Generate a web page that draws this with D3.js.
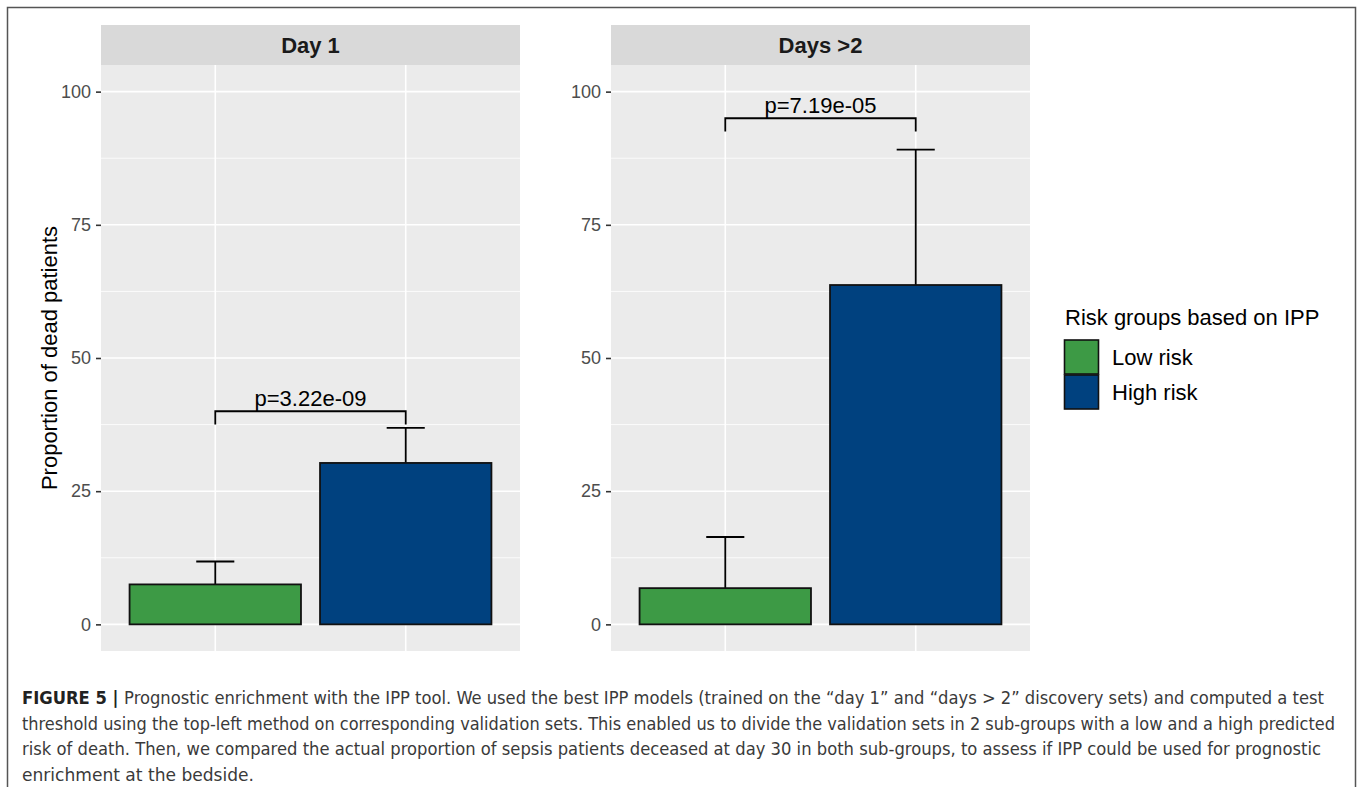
<!DOCTYPE html>
<html>
<head>
<meta charset="utf-8">
<script src="https://cdn.jsdelivr.net/npm/d3@7"></script>
<style>
  html, body { margin: 0; padding: 0; background: #ffffff; }
  svg { display: block; }
</style>
</head>
<body>
<script>
// Facets, groups and the measured proportions of deceased patients (%)
const facets = ["Day 1", "Days >2"];
const groups = ["Low risk", "High risk"];
const proportionDay1 = [7.5, 30.3];
const upperDay1 = [11.8, 36.9];
const proportionDays2 = [6.8, 63.7];
const upperDays2 = [16.4, 89.1];
const pLabels = ["p=3.22e-09", "p=7.19e-05"];
const bracketLevels = [40, 95];
const yTicks = [0, 25, 50, 75, 100];
const yMinorTicks = [12.5, 37.5, 62.5, 87.5];
const groupColors = ["#3d9a45", "#00417f"];
const legendTitle = "Risk groups based on IPP";
const yTitle = "Proportion of dead patients";
const captionLines = [
  ["FIGURE 5 | ", "Prognostic enrichment with the IPP tool. We used the best IPP models (trained on the \u201cday 1\u201d and \u201cdays > 2\u201d discovery sets) and computed a test"],
  ["", "threshold using the top-left method on corresponding validation sets. This enabled us to divide the validation sets in 2 sub-groups with a low and a high predicted"],
  ["", "risk of death. Then, we compared the actual proportion of sepsis patients deceased at day 30 in both sub-groups, to assess if IPP could be used for prognostic"],
  ["", "enrichment at the bedside."]
];
const captionWidths = [1302, 1313, 1299, 232];

const panelData = [
  { name: facets[0], values: proportionDay1, upper: upperDay1, p: pLabels[0], level: bracketLevels[0] },
  { name: facets[1], values: proportionDays2, upper: upperDays2, p: pLabels[1], level: bracketLevels[1] }
];

const W = 1363, H = 787;
const font = "'Liberation Sans', Arial, Helvetica, sans-serif";
const svg = d3.select("body").append("svg").attr("width", W).attr("height", H);

// outer frame of the figure box
svg.append("path")
  .attr("d", `M7.5,${H + 2}V7.5H1355.5V${H + 2}`)
  .attr("fill", "none").attr("stroke", "#555").attr("stroke-width", 1.5);

const panelTop = 65, panelBottom = 651, stripTop = 25;
const panelLefts = [101, 611];
const panelWidth = 419;

const y = d3.scaleLinear().domain([-5, 105]).range([panelBottom, panelTop]);

panelData.forEach((pd, i) => {
  const left = panelLefts[i], right = left + panelWidth;
  const x = d3.scalePoint().domain(groups).range([left, right]).padding(0.6);
  const barW = 0.9 * x.step();
  const capW = 0.2 * x.step();
  const g = svg.append("g");

  // strip
  g.append("rect").attr("x", left).attr("y", stripTop)
    .attr("width", panelWidth).attr("height", panelTop - stripTop).attr("fill", "#d9d9d9");
  g.append("text").attr("x", (left + right) / 2).attr("y", 53)
    .attr("text-anchor", "middle").attr("font-family", font).attr("font-weight", "bold")
    .attr("font-size", 22).attr("fill", "#1a1a1a").text(pd.name);

  // panel background and grid
  g.append("rect").attr("x", left).attr("y", panelTop)
    .attr("width", panelWidth).attr("height", panelBottom - panelTop).attr("fill", "#ebebeb");
  g.selectAll(".minor").data(yMinorTicks).join("line")
    .attr("x1", left).attr("x2", right).attr("y1", d => y(d)).attr("y2", d => y(d))
    .attr("stroke", "#fff").attr("stroke-width", 0.8);
  g.selectAll(".major").data(yTicks).join("line")
    .attr("x1", left).attr("x2", right).attr("y1", d => y(d)).attr("y2", d => y(d))
    .attr("stroke", "#fff").attr("stroke-width", 1.6);
  g.selectAll(".vmajor").data(groups).join("line")
    .attr("x1", d => x(d)).attr("x2", d => x(d)).attr("y1", panelTop).attr("y2", panelBottom)
    .attr("stroke", "#fff").attr("stroke-width", 1.6);

  // y axis
  const axis = g.append("g").attr("transform", `translate(${left},0)`)
    .call(d3.axisLeft(y).tickValues(yTicks).tickSize(5).tickPadding(5));
  axis.select(".domain").remove();
  axis.selectAll(".tick line").attr("stroke", "#333").attr("stroke-width", 1.6);
  axis.selectAll(".tick text").attr("font-family", font).attr("font-size", 18).attr("fill", "#4d4d4d");

  // upper error bars
  groups.forEach((grp, j) => {
    const cx = x(grp);
    g.append("line").attr("x1", cx).attr("x2", cx)
      .attr("y1", y(pd.values[j])).attr("y2", y(pd.upper[j]))
      .attr("stroke", "#000").attr("stroke-width", 1.8);
    g.append("line").attr("x1", cx - capW / 2).attr("x2", cx + capW / 2)
      .attr("y1", y(pd.upper[j])).attr("y2", y(pd.upper[j]))
      .attr("stroke", "#000").attr("stroke-width", 1.8);
  });

  // bars
  g.selectAll(".bar").data(groups).join("rect")
    .attr("x", d => x(d) - barW / 2).attr("width", barW)
    .attr("y", (d, j) => y(pd.values[j]))
    .attr("height", (d, j) => y(0) - y(pd.values[j]))
    .attr("fill", (d, j) => groupColors[j])
    .attr("stroke", "#111").attr("stroke-width", 1.8);

  // significance bracket
  const tip = 2.5;
  const x1 = x(groups[0]), x2 = x(groups[1]);
  g.append("path")
    .attr("d", `M${x1},${y(pd.level - tip)}V${y(pd.level)}H${x2}V${y(pd.level - tip)}`)
    .attr("fill", "none").attr("stroke", "#000").attr("stroke-width", 1.8);
  g.append("text").attr("x", (x1 + x2) / 2).attr("y", y(pd.level) - 5)
    .attr("text-anchor", "middle").attr("font-family", font).attr("font-size", 22)
    .attr("fill", "#000").text(pd.p);
});

// y axis title
svg.append("text")
  .attr("transform", `translate(57,${(panelTop + panelBottom) / 2}) rotate(-90)`)
  .attr("text-anchor", "middle").attr("font-family", font).attr("font-size", 22)
  .attr("fill", "#000").text(yTitle);

// legend
const lg = svg.append("g");
lg.append("text").attr("x", 1065).attr("y", 325).attr("font-family", font)
  .attr("font-size", 22).attr("fill", "#000").text(legendTitle);
groups.forEach((grp, j) => {
  const top = 340 + j * 35;
  lg.append("rect").attr("x", 1064.5).attr("y", top).attr("width", 34).attr("height", 34)
    .attr("fill", groupColors[j]).attr("stroke", "#111").attr("stroke-width", 1.6);
  lg.append("text").attr("x", 1112).attr("y", top + 17).attr("dy", "0.35em")
    .attr("font-family", font).attr("font-size", 22).attr("fill", "#000").text(grp);
});

// caption
const cap = svg.append("g");
captionLines.forEach((ln, k) => {
  const t = cap.append("text").attr("x", 22).attr("y", 704 + k * 25.7)
    .attr("font-family", "'Liberation Sans Narrow', 'DejaVu Sans Condensed', 'Roboto Condensed', sans-serif")
    .attr("font-size", 17).attr("fill", "#3a3a3a")
    .attr("textLength", captionWidths[k]).attr("lengthAdjust", "spacingAndGlyphs");
  if (ln[0]) t.append("tspan").attr("font-weight", "bold").attr("fill", "#222").text(ln[0]);
  t.append("tspan").text(ln[1]);
});
</script>
</body>
</html>
